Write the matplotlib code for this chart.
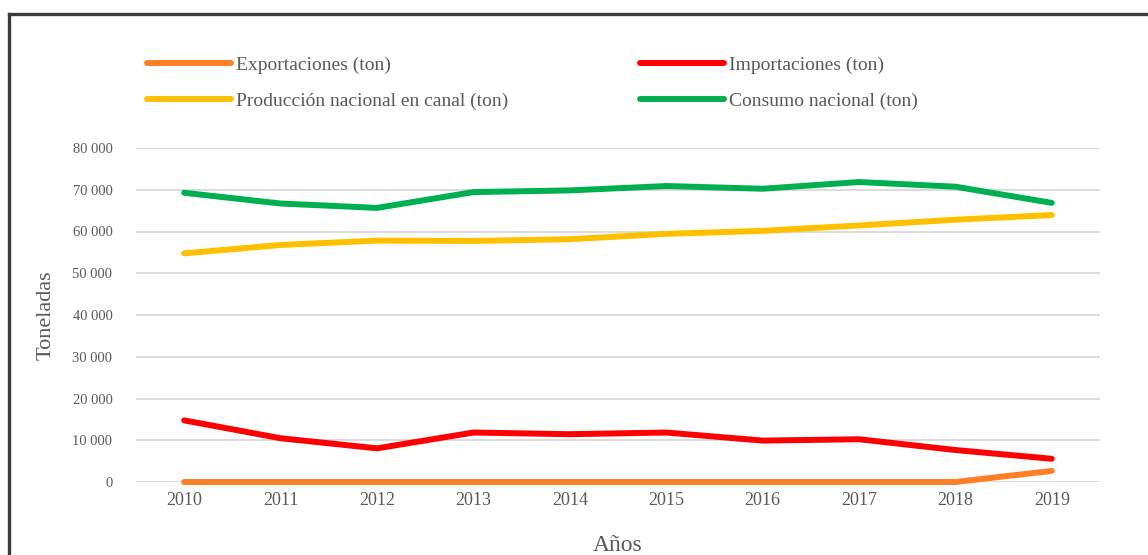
import matplotlib
matplotlib.use("Agg")
import matplotlib.pyplot as plt
from matplotlib.lines import Line2D
from matplotlib.ticker import FuncFormatter, MultipleLocator

# Series (toneladas por año)
years = [2010, 2011, 2012, 2013, 2014, 2015, 2016, 2017, 2018, 2019]
exportaciones = [0, 0, 0, 0, 0, 0, 0, 0, 0, 2660]
importaciones = [14760, 10480, 8060, 11850, 11450, 11850, 9920, 10240, 7660, 5560]
produccion = [54760, 56770, 57820, 57740, 58150, 59440, 60160, 61450, 62820, 63950]
consumo = [69270, 66700, 65650, 69440, 69840, 70890, 70240, 71850, 70730, 66850]

labels = [
    "Exportaciones (ton)",
    "Producción nacional en canal (ton)",
    "Importaciones (ton)",
    "Consumo nacional (ton)",
]
colors = ["#FF7F27", "#FFC000", "#FF0000", "#00B050"]

plt.rcParams["font.family"] = ["Liberation Serif", "DejaVu Serif"]
text_gray = "#595959"

W, H = 1148, 555
fig = plt.figure(figsize=(W / 100, H / 100), dpi=100)
fig.patch.set_facecolor("white")

ax = fig.add_axes([136 / W, 1 - 482 / H, (1100 - 136) / W, (482 - 148) / H])

series = [exportaciones, produccion, importaciones, consumo]
handles = []
for vals, col, lab in zip(series, colors, labels):
    (ln,) = ax.plot(years, vals, color=col, lw=4.3, solid_capstyle="round",
                    solid_joinstyle="round", label=lab, zorder=3, clip_on=False)
    handles.append(ln)

ax.set_xlim(2009.5, 2019.5)
ax.set_ylim(0, 80000)
ax.set_xticks(years)
ax.yaxis.set_major_locator(MultipleLocator(10000))
ax.yaxis.set_major_formatter(
    FuncFormatter(lambda v, p: f"{v:,.0f}".replace(",", " "))
)
ax.grid(axis="y", color="#D9D9D9", lw=1.3, zorder=0)
ax.grid(axis="x", visible=False)
for s in ax.spines.values():
    s.set_visible(False)
ax.tick_params(axis="y", length=0, pad=17, labelsize=10.5, labelcolor=text_gray)
ax.tick_params(axis="x", length=0, pad=7, labelsize=13, labelcolor=text_gray)

ax.set_xlabel("Años", fontsize=17, color=text_gray, labelpad=19)
ax.set_ylabel("Toneladas", fontsize=16, color=text_gray, labelpad=12)

# Legend in two columns, placed as two stacked blocks
leg_kw = dict(loc="upper left", frameon=False, fontsize=14, borderpad=0,
              borderaxespad=0, handlelength=4.3, handletextpad=0.3,
              labelspacing=0.95, labelcolor=text_gray)
fig.legend(handles[:2], labels[:2], bbox_to_anchor=(147 / W, 1 - 56 / H), **leg_kw)
fig.legend(handles[2:], labels[2:], bbox_to_anchor=(640 / W, 1 - 56 / H), **leg_kw)

# Outer frame (top and left edges)
fig.add_artist(Line2D([9 / W, 1.0], [1 - 14 / H, 1 - 14 / H], color="#3A3A3A", lw=2.4))
fig.add_artist(Line2D([9 / W, 9 / W], [0, 1 - 14 / H], color="#3A3A3A", lw=2.4))

fig.savefig("out.png", dpi=100, facecolor="white")
